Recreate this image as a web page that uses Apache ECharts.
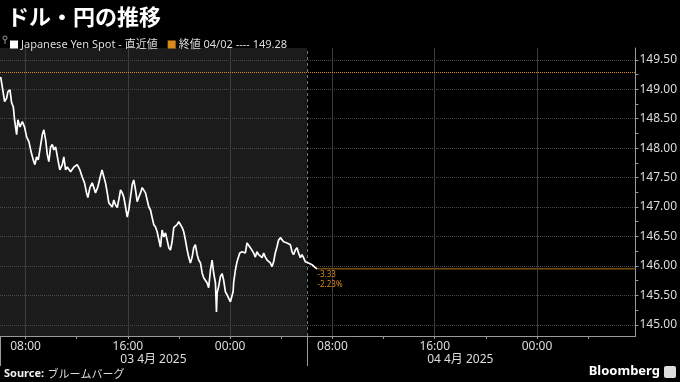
<!DOCTYPE html>
<html>
<head>
<meta charset="utf-8">
<script src="https://cdn.jsdelivr.net/npm/echarts@6/dist/echarts.min.js"></script>
<style>
html,body{margin:0;padding:0;background:#000;}
#chart{width:680px;height:382px;}
</style>
</head>
<body>
<div id="chart"></div>
<script>
// Hours since 00:00 on 03 Apr 2025
const times = [
6.05,6.18,6.36,6.52,6.62,6.78,6.91,7.04,7.14,7.30,7.40,7.56,7.75,7.93,8.08,8.26,8.45,8.60,8.73,8.86,
8.99,9.12,9.31,9.43,9.57,9.70,9.82,9.96,10.09,10.21,10.35,10.53,10.68,10.87,10.99,11.13,11.26,11.52,11.78,12.04,
12.25,12.43,12.61,12.77,12.87,13.03,13.21,13.34,13.47,13.65,13.86,13.98,14.12,14.25,14.39,14.51,14.64,14.78,14.90,15.03,
15.17,15.29,15.43,15.56,15.68,15.82,15.95,16.07,16.21,16.34,16.46,16.60,16.73,16.86,16.99,17.12,17.25,17.38,17.51,17.64,
17.77,17.90,18.03,18.16,18.29,18.42,18.55,18.68,18.81,18.94,19.07,19.20,19.33,19.46,19.59,19.72,19.85,19.98,20.11,20.25,
20.37,20.50,20.64,20.76,20.89,21.03,21.15,21.28,21.42,21.54,21.68,21.81,21.93,22.07,22.20,22.32,22.46,22.59,22.71,22.85,
22.93,22.98,23.10,23.24,23.37,23.49,23.63,23.76,23.89,24.02,24.15,24.23,24.28,24.41,24.54,24.67,24.75,24.85,24.93,25.06,
25.19,25.32,25.45,25.58,25.71,25.84,25.97,26.10,26.23,26.36,26.50,26.62,26.75,26.89,27.01,27.14,27.28,27.40,27.53,27.67,
27.79,27.93,28.06,28.18,28.32,28.45,28.57,28.71,28.84,28.96,29.10,29.23,29.35,29.49,29.62,29.74,29.88,30.01,30.13,30.27,
30.40,30.53,30.66,30.79
];
const prices = [
149.21,149.04,148.79,148.85,148.96,148.99,148.77,148.70,148.48,148.23,148.48,148.36,148.45,148.35,148.19,148.11,147.92,147.80,147.72,147.85,
147.80,147.97,148.23,148.31,148.14,147.89,147.77,148.02,148.06,147.97,148.02,147.80,147.63,147.72,147.85,147.63,147.68,147.60,147.68,147.72,
147.63,147.51,147.41,147.24,147.16,147.33,147.41,147.33,147.24,147.34,147.53,147.63,147.60,147.41,147.24,147.07,147.09,147.00,147.12,147.04,
146.99,147.12,147.29,147.24,147.17,147.00,146.83,146.95,147.17,147.38,147.46,147.29,147.09,147.17,147.24,147.33,147.34,147.24,147.12,147.00,
146.95,146.82,146.70,146.66,146.58,146.58,146.32,146.61,146.49,146.56,146.44,146.31,146.27,146.41,146.65,146.66,146.70,146.75,146.73,146.65,
146.58,146.44,146.27,146.15,146.05,146.15,146.31,146.36,146.19,146.10,146.05,145.88,145.80,145.82,145.71,145.63,145.93,146.10,145.88,145.71,
145.22,145.54,145.65,145.82,145.87,145.76,145.56,145.51,145.48,145.39,145.36,145.56,145.73,145.93,146.07,146.10,146.22,146.19,146.24,146.27,
146.22,146.39,146.36,146.31,146.33,146.22,146.15,146.24,146.19,146.22,146.14,146.22,146.15,146.10,146.07,146.05,145.99,146.07,146.22,146.33,
146.44,146.48,146.49,146.41,146.44,146.39,146.41,146.36,146.24,146.19,146.27,146.31,146.22,146.14,146.19,146.14,146.07,146.05,146.05,146.04,
146.02,145.99,145.97,145.95
];
const prevClose = 149.28;
const prevCloseDate = '04/02';
const yTicks = [145.0,145.5,146.0,146.5,147.0,147.5,148.0,148.5,149.0,149.5];
const yMinorTicks = [145.0,145.25,145.5,145.75,146.0,146.25,146.5,146.75,147.0,147.25,147.5,147.75,148.0,148.25,148.5,148.75,149.0,149.25,149.5];
const hourTicks = [8,16,24,32,40,48];
const hourMinorTicks = [8,12,16,20,24,28,32,36,40,44,48,52];
const dayStarts = [6,30];
const dayCenters = [18,42];
const dayLabels = ['03 4月 2025','04 4月 2025'];
const xMin = 6, xMax = 55.7, yMin = 144.81, yMax = 149.70;

const FONT = '"Noto Sans", "Noto Sans CJK JP", sans-serif';
const ORANGE = '#d98a1c';
const lastT = times[times.length-1];
const lastV = prices[prices.length-1];
const chg = lastV - prevClose;
const pct = chg / prevClose * 100;
const mainName = 'Japanese Yen Spot - 直近値';
const closeName = '終値 ' + prevCloseDate + ' ---- ' + prevClose.toFixed(2);

const chart = echarts.init(document.getElementById('chart'), null, {renderer:'canvas'});
chart.setOption({
  backgroundColor: '#000',
  animation: false,
  textStyle: {fontFamily: FONT},
  title: {
    text: 'ドル・円の推移', left: 2, top: 1,
    textStyle: {color:'#fff', fontSize: 22, fontWeight: 'bold', fontFamily: '"Noto Sans CJK JP", sans-serif'}
  },
  legend: {
    left: 5, top: 34, itemWidth: 8, itemHeight: 8, itemGap: 10, icon: 'rect',
    data: [mainName, closeName],
    textStyle: {color:'#ddd', fontSize: 11, fontFamily: FONT, padding:[0,0,0,-2]}
  },
  grid: {left: 0, right: 44, top: 48, bottom: 46, containLabel: false},
  xAxis: [{
    type: 'value', min: xMin, max: xMax, position: 'bottom',
    axisLine: {show: true, lineStyle: {color:'#9a9a9a', width: 1}},
    axisTick: {show: true, customValues: hourMinorTicks, length: 3, lineStyle: {color:'#9a9a9a'}},
    axisLabel: {show: true, customValues: hourTicks, color:'#ddd', fontSize: 12, margin: 5,
      formatter: v => String(Math.round(v) % 24).padStart(2,'0') + ':00'},
    splitLine: {show: false}
  },{
    type: 'value', min: xMin, max: xMax, position: 'bottom',
    axisLine: {show: false},
    axisTick: {show: true, customValues: dayStarts, length: 30, lineStyle: {color:'#9a9a9a'}},
    axisLabel: {show: true, customValues: dayCenters, color:'#ddd', fontSize: 12, margin: 18,
      formatter: v => dayLabels[dayCenters.indexOf(v)]},
    splitLine: {show: false}
  }],
  yAxis: {
    type: 'value', position: 'right', min: yMin, max: yMax,
    axisLine: {show: true, lineStyle: {color:'#9a9a9a'}},
    axisTick: {show: true, customValues: yMinorTicks, length: 3, lineStyle: {color:'#9a9a9a'}},
    axisLabel: {show: true, customValues: yTicks, color:'#ddd', fontSize: 12, margin: 4,
      formatter: v => v.toFixed(2)},
    splitLine: {show: false}
  },
  series: [
    {
      name: 'grid', type: 'line', data: [], z: 1, silent: true,
      markArea: {silent: true, itemStyle: {color:'#1b1b1b'}, data: [[{xAxis: dayStarts[0]}, {xAxis: dayStarts[1]}]]},
      markLine: {
        silent: true, symbol: ['none','none'], label: {show:false},
        data: [
          ...yTicks.map(v => ({yAxis: v, lineStyle: {color:'#4a4a4a', type:'dotted', width:1}})),
          ...hourTicks.map(v => ({xAxis: v, lineStyle: {color:'#3c3c3c', type:'solid', width:1}})),
          {xAxis: dayStarts[1], lineStyle: {color:'#777', type:[3,3], width:1}}
        ]
      }
    },
    {
      name: closeName, type: 'line', data: [], z: 2, color: ORANGE,
      markLine: {
        silent: true, symbol: ['none','none'], label: {show:false},
        data: [
          {yAxis: prevClose, lineStyle: {color: ORANGE, type:'dotted', width:1}}
        ]
      }
    },
    {
      name: 'lastLevel', type: 'line', z: 3, silent: true, showSymbol: false, symbol: 'none',
      data: [[lastT, lastV], [xMax, lastV]],
      lineStyle: {color: '#b8741a', width: 1, type: 'solid'}
    },
    {
      name: mainName, type: 'line', z: 5, color: '#fff',
      data: times.map((t,i) => [t, prices[i]]),
      showSymbol: false, symbol: 'none',
      lineStyle: {color:'#fff', width: 1.7},
      markPoint: {
        silent: true,
        data: [{coord:[lastT, lastV], symbol:'circle', symbolSize: 1, itemStyle:{color:'rgba(0,0,0,0)'},
          label: {show:true, position:[1,1], color: ORANGE, fontSize: 8, lineHeight: 10, align:'left', verticalAlign:'top',
            formatter: chg.toFixed(2) + '\n' + pct.toFixed(2) + '%'}}]
      }
    }
  ],
  graphic: [
    {type:'circle', shape:{cx:5, cy:38, r:2}, style:{fill:'none', stroke:'#999', lineWidth:1}},
    {type:'line', shape:{x1:5, y1:40, x2:5, y2:44}, style:{stroke:'#999', lineWidth:1}},
    {type:'text', left: 4, top: 368, style:{
      text: '{b|Source:} {n|ブルームバーグ}', fill:'#ddd',
      rich: {b:{fontWeight:'bold', fontSize: 11, fill:'#eee', fontFamily: FONT}, n:{fontSize: 11, fill:'#ddd', fontFamily: '"Noto Sans CJK JP", sans-serif'}}
    }},
    {type:'text', right: 20, top: 365, style:{text:'Bloomberg', fill:'#fff', fontSize: 13, fontWeight:'bold', fontFamily: FONT}},
    {type:'rect', right: 4, top: 366, shape:{width:12, height:12, r:2}, style:{fill:'#ddd'}}
  ]
});
</script>
</body>
</html>
